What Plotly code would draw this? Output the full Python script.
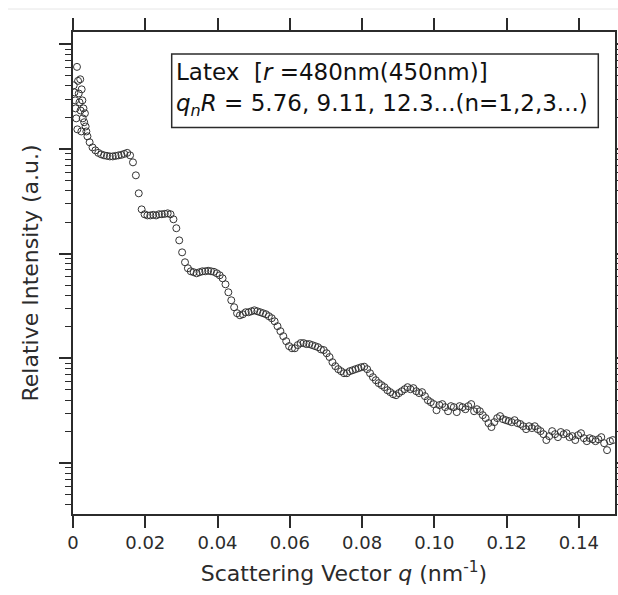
import plotly.graph_objects as go

# Scattering vector q (nm^-1)
q_values = [
    0.0002, 0.0004, 0.0006, 0.0007, 0.0009, 0.0011, 0.0012, 0.0014, 0.0016, 0.0018,
    0.0020, 0.0021, 0.0023, 0.0024, 0.0026, 0.0027, 0.0029, 0.0031, 0.0033, 0.0035,
    0.0037, 0.0040, 0.0046,
    0.0054, 0.0062, 0.0070, 0.0078, 0.0086, 0.0094, 0.0102, 0.0110, 0.0118, 0.0126,
    0.0134, 0.0142, 0.0150, 0.0158, 0.0166, 0.0174, 0.0182, 0.0190, 0.0198, 0.0206,
    0.0214, 0.0222, 0.0230, 0.0238, 0.0246, 0.0254, 0.0262, 0.0270, 0.0278, 0.0286,
    0.0294, 0.0302, 0.0310, 0.0318, 0.0326, 0.0334, 0.0342, 0.0350, 0.0358, 0.0366,
    0.0374, 0.0382, 0.0390, 0.0398, 0.0406, 0.0414, 0.0422, 0.0430, 0.0438, 0.0446,
    0.0454, 0.0462, 0.0470, 0.0478, 0.0486, 0.0494, 0.0502, 0.0510, 0.0518, 0.0526,
    0.0534, 0.0542, 0.0550, 0.0558, 0.0566, 0.0574, 0.0582, 0.0590, 0.0598, 0.0606,
    0.0614, 0.0622, 0.0630, 0.0638, 0.0646, 0.0654, 0.0662, 0.0670, 0.0678, 0.0686,
    0.0694, 0.0702, 0.0710, 0.0718, 0.0726, 0.0734, 0.0742, 0.0750, 0.0758, 0.0766,
    0.0774, 0.0782, 0.0790, 0.0798, 0.0806, 0.0814, 0.0822, 0.0830, 0.0838, 0.0846,
    0.0854, 0.0862, 0.0870, 0.0878, 0.0886, 0.0894, 0.0902, 0.0910, 0.0918, 0.0926,
    0.0934, 0.0942, 0.0950, 0.0958, 0.0966, 0.0974, 0.0982, 0.0990, 0.0998, 0.1006,
    0.1014, 0.1022, 0.1030, 0.1038, 0.1046, 0.1054, 0.1062, 0.1070, 0.1078, 0.1086,
    0.1094, 0.1102, 0.1110, 0.1118, 0.1126, 0.1134, 0.1142, 0.1150, 0.1158, 0.1166,
    0.1174, 0.1182, 0.1190, 0.1198, 0.1206, 0.1214, 0.1222, 0.1230, 0.1238, 0.1246,
    0.1254, 0.1262, 0.1270, 0.1278, 0.1286, 0.1294, 0.1302, 0.1310, 0.1318, 0.1326,
    0.1334, 0.1342, 0.1350, 0.1358, 0.1366, 0.1374, 0.1382, 0.1390, 0.1398, 0.1406,
    0.1414, 0.1422, 0.1430, 0.1438, 0.1446, 0.1454, 0.1462, 0.1470, 0.1478, 0.1486,
    0.1494,
]

# Relative intensity (a.u.)
intensity = [
    4050, 3470, 2910, 2440, 1960, 6080, 1540, 4470, 3390, 2790,
    4630, 2330, 1470, 3710, 2910, 1960, 2440, 1800, 2190, 1640,
    1470, 1320, 1160,
    1035, 970, 918, 888, 869, 859, 849, 849, 859, 869,
    879, 898, 918, 869, 745, 560, 377, 265, 238, 232,
    232, 235, 232, 238, 238, 240, 243, 238, 213, 175,
    134, 103, 82.8, 72.6, 67.9, 66.5, 65.0, 66.5, 67.9, 67.9,
    68.7, 67.9, 67.1, 65.0, 62.2, 58.2, 51.0, 42.8, 35.9, 30.8,
    27.0, 25.8, 26.4, 27.6, 27.6, 28.2, 28.8, 28.2, 27.6, 27.0,
    26.4, 25.3, 24.2, 22.6, 20.3, 18.2, 16.3, 14.6, 13.1, 12.5,
    12.5, 13.4, 14.0, 14.0, 13.7, 13.7, 13.4, 13.1, 12.8, 12.2,
    12.0, 11.2, 10.3, 9.20, 8.43, 7.89, 7.55, 7.22, 7.22, 7.55,
    7.71, 7.89, 8.06, 8.24, 8.33, 7.89, 7.22, 6.62, 6.19, 5.80,
    5.55, 5.31, 4.97, 4.76, 4.55, 4.45, 4.66, 4.86, 5.08, 5.31,
    5.08, 5.20, 4.86, 4.66, 4.76, 4.36, 3.99, 3.82, 3.66, 3.20,
    3.58, 3.66, 3.42, 3.13, 3.50, 3.42, 3.07, 3.50, 3.42, 3.27,
    3.50, 3.66, 3.13, 3.27, 3.13, 2.87, 2.69, 2.41, 2.21, 2.46,
    2.69, 2.81, 2.63, 2.57, 2.52, 2.46, 2.57, 2.41, 2.36, 2.25,
    2.11, 2.25, 2.16, 2.25, 2.11, 2.02, 1.89, 1.66, 1.81, 2.02,
    1.89, 1.77, 1.98, 1.89, 1.93, 1.77, 1.81, 1.66, 1.85, 1.93,
    1.73, 1.62, 1.73, 1.69, 1.62, 1.69, 1.77, 1.55, 1.33, 1.62,
    1.66,
]

x_tick_values = [0, 0.02, 0.04, 0.06, 0.08, 0.10, 0.12, 0.14]
x_tick_labels = ["0", "0.02", "0.04", "0.06", "0.08", "0.10", "0.12", "0.14"]
y_major_ticks = [1, 10, 100, 1000, 10000]
y_minor_ticks = [m * 10.0 ** d for d in range(-1, 5) for m in range(2, 10)]

FONT = "DejaVu Sans"
INK = "#2b2b2b"

fig = go.Figure()
fig.add_trace(go.Scatter(
    x=q_values, y=intensity, mode="markers",
    marker=dict(symbol="circle-open", size=7, color="#333333",
                line=dict(width=1, color="#333333")),
    showlegend=False,
))

fig.update_layout(
    width=618, height=595,
    margin=dict(l=73, r=3, t=32, b=81, autoexpand=False),
    paper_bgcolor="white", plot_bgcolor="white",
    font=dict(family=FONT, color=INK),
    xaxis=dict(
        range=[0, 0.15], tickmode="array", tickvals=x_tick_values, ticktext=x_tick_labels,
        ticks="outside", ticklen=12, tickwidth=1.5, tickcolor=INK,
        showline=True, linewidth=1.5, linecolor=INK, mirror="ticks",
        showgrid=False, zeroline=False,
        tickfont=dict(size=18, family=FONT, color=INK),
        title=dict(text="Scattering Vector <i>q</i> (nm<sup>-1</sup>)",
                   font=dict(size=22, family=FONT, color=INK), standoff=13),
    ),
    yaxis=dict(
        type="log", range=[-0.486, 4.117], tickmode="array", tickvals=y_major_ticks,
        showticklabels=False,
        ticks="outside", ticklen=12, tickwidth=1.5, tickcolor=INK,
        minor=dict(tickmode="array", tickvals=y_minor_ticks, ticks="outside",
                   ticklen=6, tickwidth=1.2, tickcolor=INK),
        showline=True, linewidth=1.5, linecolor=INK, mirror="ticks",
        showgrid=False, zeroline=False,
        title=dict(text="Relative Intensity (a.u.)",
                   font=dict(size=22, family=FONT, color=INK), standoff=15),
    ),
    shapes=[
        dict(type="rect", xref="paper", yref="paper",
             x0=0.1821, x1=0.9692, y0=0.8019, y1=0.9544,
             line=dict(color=INK, width=1.5), fillcolor="rgba(0,0,0,0)"),
        dict(type="line", xref="paper", yref="paper",
             x0=-0.12, x1=1.01, y0=1.0477, y1=1.0477,
             line=dict(color="#e6e6e6", width=1)),
    ],
    annotations=[
        dict(xref="paper", yref="paper", x=0.186, y=0.917, xanchor="left", yanchor="middle",
             text="Latex&nbsp; [<i>r</i> =480nm(450nm)]", showarrow=False,
             font=dict(size=23, family=FONT, color="#111111")),
        dict(xref="paper", yref="paper", x=0.186, y=0.849, xanchor="left", yanchor="middle",
             text="<i>q<sub>n</sub>R</i> = 5.76, 9.11, 12.3...(n=1,2,3...)", showarrow=False,
             font=dict(size=23, family=FONT, color="#111111")),
    ],
)

fig.write_html("out.html")
